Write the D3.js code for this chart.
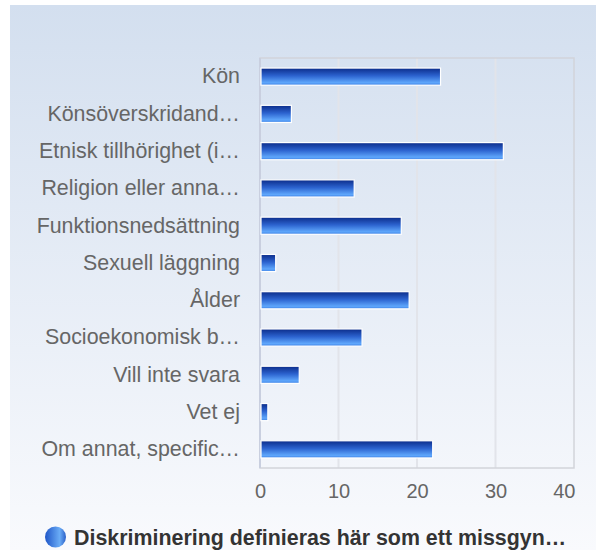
<!DOCTYPE html>
<html><head><meta charset="utf-8">
<script src="https://cdn.jsdelivr.net/npm/d3@7"></script>
<style>body{margin:0;background:#fff}svg{display:block}text{font-family:"Liberation Sans",Arial,sans-serif}</style>
</head><body>
<svg id="c" width="596" height="550"></svg>
<script>
const categories = ["Kön","Könsöverskridand…","Etnisk tillhörighet (i…","Religion eller anna…","Funktionsnedsättning","Sexuell läggning","Ålder","Socioekonomisk b…","Vill inte svara","Vet ej","Om annat, specific…"];
const values = [23,4,31,12,18,2,19,13,5,1,22];
const xTicks = [0,10,20,30,40];
const seriesName = "Diskriminering definieras här som ett missgyn…";

const svg = d3.select("#c");
const defs = svg.append("defs");
const bg = defs.append("linearGradient").attr("id","bg").attr("x1",0).attr("y1",0).attr("x2",0).attr("y2",1);
bg.append("stop").attr("offset","0%").attr("stop-color","#d3dfef");
bg.append("stop").attr("offset","100%").attr("stop-color","#f9fafd");
const bar = defs.append("linearGradient").attr("id","bar").attr("x1",0).attr("y1",0).attr("x2",0).attr("y2",1);
bar.append("stop").attr("offset","0%").attr("stop-color","#0b2c8a");
bar.append("stop").attr("offset","45%").attr("stop-color","#2c63cf");
bar.append("stop").attr("offset","85%").attr("stop-color","#5ea6fb");
bar.append("stop").attr("offset","100%").attr("stop-color","#3f82e6");
const leg = defs.append("linearGradient").attr("id","leg").attr("x1",0).attr("y1",0).attr("x2",1).attr("y2",0);
leg.append("stop").attr("offset","0%").attr("stop-color","#1f56c8");
leg.append("stop").attr("offset","70%").attr("stop-color","#6aacf6");
leg.append("stop").attr("offset","100%").attr("stop-color","#2a5fc8");

svg.append("rect").attr("x",10).attr("y",5).attr("width",586).attr("height",545).attr("fill","url(#bg)");

const L=260, R=574, T=58, B=468;
const x = d3.scaleLinear().domain([0,40]).range([L,R]);
const y = d3.scaleBand().domain(categories).range([T,B]).paddingInner(0.54).paddingOuter(0.27);

// grid
svg.append("g").selectAll("line").data(xTicks.slice(1,-1)).join("line")
  .attr("x1",d=>x(d)).attr("x2",d=>x(d)).attr("y1",T).attr("y2",B)
  .attr("stroke","#e2e4ea").attr("stroke-width",2);
// border
svg.append("rect").attr("x",L).attr("y",T).attr("width",R-L).attr("height",B-T)
  .attr("fill","none").attr("stroke","#d2d4da").attr("stroke-width",1.5);
svg.append("line").attr("x1",L).attr("x2",L).attr("y1",T).attr("y2",B).attr("stroke","#c9cfdf").attr("stroke-width",2);

// bars
svg.append("g").selectAll("rect").data(values).join("rect")
  .attr("x",x(0)+1).attr("y",(d,i)=>y(categories[i]))
  .attr("width",d=>x(d)-x(0)-1).attr("height",y.bandwidth())
  .attr("fill","url(#bar)").attr("stroke","#ffffff").attr("stroke-width",1.2);

// category labels
const yAxis = d3.axisLeft(y).tickSize(0).tickPadding(20);
const gy = svg.append("g").attr("transform",`translate(${L},0)`).call(yAxis);
gy.select(".domain").remove();
gy.selectAll("text").attr("font-size",21.4).attr("fill","#666").attr("font-family","'Liberation Sans',Arial,sans-serif");

// x axis labels
const xAxis = d3.axisBottom(x).tickValues(xTicks).tickSize(0).tickPadding(16);
const gx = svg.append("g").attr("transform",`translate(0,${B})`).call(xAxis);
gx.select(".domain").remove();
gx.selectAll("text").attr("font-size",20).attr("fill","#666").attr("font-family","'Liberation Sans',Arial,sans-serif")
  .attr("text-anchor",(d,i)=>i===xTicks.length-1?"end":"middle")
  .attr("dx",(d,i)=>i===xTicks.length-1?"0.05em":0);

// legend
svg.append("circle").attr("cx",55.5).attr("cy",537).attr("r",10.5).attr("fill","url(#leg)");
svg.append("text").attr("x",74).attr("y",545).attr("font-size",21.4).attr("font-weight","bold")
  .attr("fill","#333").text(seriesName);
</script>
</body></html>
